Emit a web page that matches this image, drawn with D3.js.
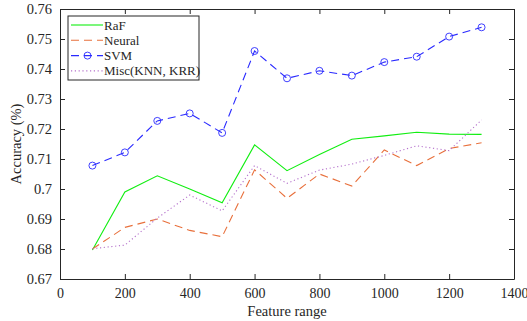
<!DOCTYPE html>
<html>
<head>
<meta charset="utf-8">
<script src="https://cdn.jsdelivr.net/npm/d3@7"></script>
<style>
  body { margin: 0; background: #fff; }
  text { font-family: "Liberation Serif", "DejaVu Serif", serif; fill: #262626; }
</style>
</head>
<body>
<script>
// feature range values on the x axis
var features = [100, 200, 300, 400, 500, 600, 700, 800, 900, 1000, 1100, 1200, 1300];

// accuracy per model
var rafValues    = [0.6797, 0.6990, 0.7044, 0.7000, 0.6954, 0.7147, 0.7061, 0.7115, 0.7166, 0.7177, 0.7189, 0.7183, 0.7182];
var neuralValues = [0.6800, 0.6872, 0.6900, 0.6862, 0.6841, 0.7064, 0.6969, 0.7050, 0.7010, 0.7130, 0.7078, 0.7135, 0.7154];
var svmValues    = [0.7078, 0.7122, 0.7227, 0.7252, 0.7187, 0.7460, 0.7369, 0.7394, 0.7378, 0.7423, 0.7441, 0.7508, 0.7539];
var miscValues   = [0.6801, 0.6813, 0.6903, 0.6980, 0.6927, 0.7078, 0.7019, 0.7063, 0.7083, 0.7112, 0.7144, 0.7128, 0.7230];

var seriesNames = ['RaF', 'Neural', 'SVM', 'Misc(KNN, KRR)'];

var xTicks = [0, 200, 400, 600, 800, 1000, 1200, 1400];
var yTicks = [0.67, 0.68, 0.69, 0.70, 0.71, 0.72, 0.73, 0.74, 0.75, 0.76];

var width = 527, height = 321;
var margin = { top: 9, right: 13, bottom: 42, left: 60 };
var plotW = width - margin.left - margin.right;
var plotH = height - margin.top - margin.bottom;

var series = [
    { name: seriesNames[0], values: rafValues,    color: '#11ee11', dash: null,  marker: false },
    { name: seriesNames[1], values: neuralValues, color: '#e8703c', dash: '8,5', marker: false },
    { name: seriesNames[2], values: svmValues,    color: '#2a2aff', dash: '8,5', marker: true },
    { name: seriesNames[3], values: miscValues,   color: '#b572cc', dash: '1.2,2.6', marker: false }
];

var svg = d3.select('body').append('svg')
    .attr('width', width).attr('height', height);

var g = svg.append('g')
    .attr('transform', 'translate(' + margin.left + ',' + margin.top + ')');

var x = d3.scaleLinear().domain([0, 1400]).range([0, plotW]);
var y = d3.scaleLinear().domain([0.67, 0.76]).range([plotH, 0]);

// tick labels like 0.7 rather than 0.70
var fmtY = function(d) { return String(+d.toFixed(2)); };

// axes, ticks pointing inwards like the original
g.append('g')
    .attr('transform', 'translate(0,' + plotH + ')')
    .call(d3.axisBottom(x).tickValues(xTicks).tickFormat(d3.format('d')).tickSizeInner(-5).tickSizeOuter(0).tickPadding(9))
    .call(function(a) { a.selectAll('text').attr('font-size', 14); });

g.append('g')
    .call(d3.axisLeft(y).tickValues(yTicks).tickFormat(fmtY).tickSizeInner(-5).tickSizeOuter(0).tickPadding(8))
    .call(function(a) { a.selectAll('text').attr('font-size', 14.5); });

g.append('g')
    .call(d3.axisTop(x).tickValues(xTicks).tickFormat('').tickSizeInner(-5).tickSizeOuter(0));

g.append('g')
    .attr('transform', 'translate(' + plotW + ',0)')
    .call(d3.axisRight(y).tickValues(yTicks).tickFormat('').tickSizeInner(-5).tickSizeOuter(0));

g.selectAll('.domain').attr('stroke', '#262626').attr('stroke-width', 1);
g.selectAll('.tick line').attr('stroke', '#262626');
g.selectAll('.tick text').attr('fill', '#262626');

// lines
var line = d3.line()
    .x(function(d, i) { return x(features[i]); })
    .y(function(d) { return y(d); });

series.forEach(function(s) {
    g.append('path')
        .datum(s.values)
        .attr('fill', 'none')
        .attr('stroke', s.color)
        .attr('stroke-width', 1.1)
        .attr('stroke-dasharray', s.dash)
        .attr('d', line);
    if (s.marker) {
        g.selectAll(null)
            .data(s.values)
            .enter()
            .append('circle')
            .attr('cx', function(d, i) { return x(features[i]); })
            .attr('cy', function(d) { return y(d); })
            .attr('r', 3.5)
            .attr('fill', 'none')
            .attr('stroke', s.color)
            .attr('stroke-width', 0.9);
    }
});

// legend
var legend = g.append('g').attr('transform', 'translate(8,7)');
legend.append('rect')
    .attr('width', 131).attr('height', 64)
    .attr('fill', '#fff').attr('stroke', '#262626').attr('stroke-width', 1);

series.forEach(function(s, i) {
    var ly = 9 + i * 15.3;
    legend.append('line')
        .attr('x1', 3).attr('x2', 35)
        .attr('y1', ly).attr('y2', ly)
        .attr('stroke', s.color)
        .attr('stroke-width', 1.1)
        .attr('stroke-dasharray', s.dash);
    if (s.marker) {
        legend.append('circle')
            .attr('cx', 19.5).attr('cy', ly).attr('r', 3.5)
            .attr('fill', 'none').attr('stroke', s.color).attr('stroke-width', 0.9);
    }
    legend.append('text')
        .attr('x', 36).attr('y', ly + 4.5)
        .attr('font-size', 13)
        .text(s.name);
});

// axis titles
svg.append('text')
    .attr('x', margin.left + plotW / 2).attr('y', height - 5)
    .attr('text-anchor', 'middle')
    .attr('font-size', 14.5)
    .text('Feature range');

svg.append('text')
    .attr('transform', 'translate(21,' + (margin.top + plotH / 2) + ') rotate(-90)')
    .attr('text-anchor', 'middle')
    .attr('font-size', 14.5)
    .text('Accuracy (%)');
</script>
</body>
</html>
